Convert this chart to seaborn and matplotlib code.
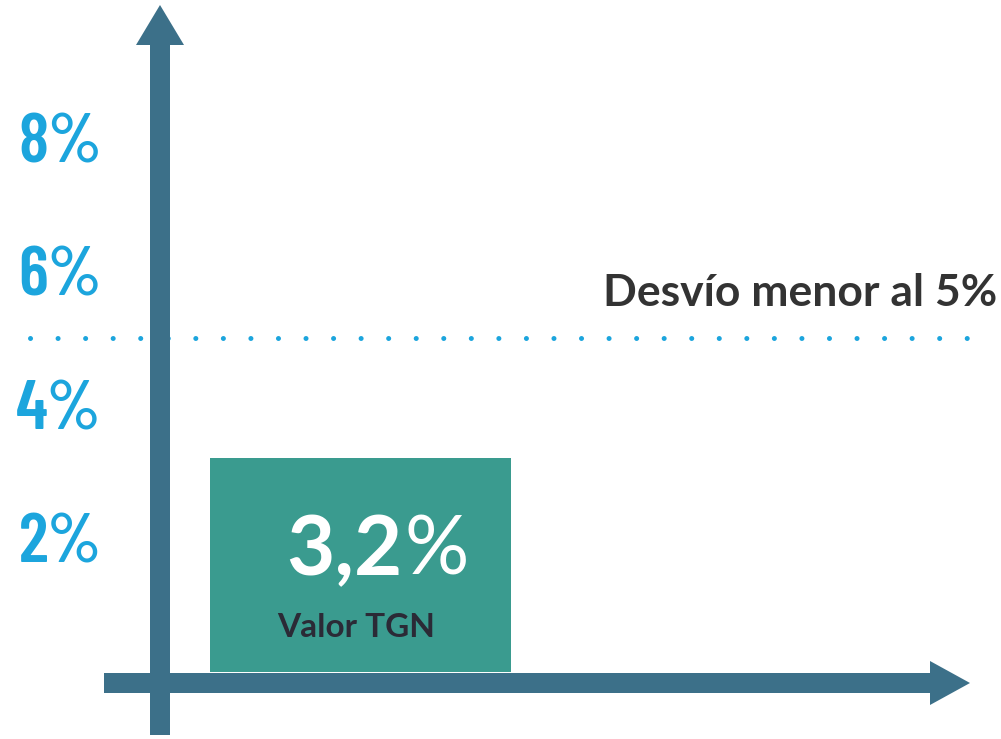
import numpy as np
import pandas as pd
import seaborn as sns
import matplotlib.pyplot as plt
import matplotlib.transforms as mtransforms
from matplotlib.patches import FancyArrow

# data
categories = ['Valor TGN']
values = [3.2]
threshold = 5.0
threshold_label = 'Desvío menor al 5%'
tick_values = [2, 4, 6, 8]
tick_labels = ['2%', '4%', '6%', '8%']

# colours
axis_color = '#3c7089'
bar_color = '#3a9b8f'
blue = '#1ca5dd'
dark = '#333333'

sns.set_theme(style='white')
plt.rcParams['font.family'] = ['Lato', 'DejaVu Sans']
narrow = ['Barlow Condensed', 'Oswald', 'Roboto Condensed', 'Liberation Sans Narrow', 'DejaVu Sans']

fig = plt.figure(figsize=(10.01, 7.39), dpi=100)
ax = fig.add_axes([160 / 1001, 0, 841 / 1001, 1])

df = pd.DataFrame({'cat': categories, 'val': values})
sns.barplot(data=df, x='cat', y='val', color=bar_color, saturation=1,
            width=0.8, linewidth=0, ax=ax, zorder=2)

ax.set_xlim(-0.533, 1.703)
ax.set_ylim(-1.003, 10.06)
ax.set_xlabel('')
ax.set_ylabel('')
ax.set_xticks([])
ax.set_yticks(tick_values)
ax.set_yticklabels(tick_labels, family=narrow, fontweight='semibold', fontsize=50, color=blue)
ax.tick_params(axis='y', length=0, pad=42)
for s in ax.spines.values():
    s.set_visible(False)
ax.set_facecolor('white')

# arrows for the axes (pixel coords)
fig.canvas.draw()
ident = mtransforms.IdentityTransform()
x0_px = ax.transAxes.transform((0, 0))[0]
y0_px = ax.transData.transform((0, 0))[1]
fig.add_artist(FancyArrow(x0_px, 4, 0, 730, width=20, head_width=48, head_length=40,
                          length_includes_head=True, color=axis_color, lw=0,
                          transform=ident, zorder=1))
fig.add_artist(FancyArrow(104, y0_px - 11, 866, 0, width=20, head_width=44, head_length=40,
                          length_includes_head=True, color=axis_color, lw=0,
                          transform=ident, zorder=1))

# threshold dotted line
ax.axhline(threshold, xmin=-0.1546, xmax=0.961, color=blue, lw=3.6,
           linestyle=(0, (0.01, 5.5)), dash_capstyle='round', clip_on=False, zorder=5)
ax.annotate(threshold_label, xy=(1, threshold), xycoords=ax.get_yaxis_transform(),
            xytext=(-3, 23), textcoords='offset points', ha='right', va='baseline',
            fontsize=32, fontweight='bold', color=dark)

# labels inside the bar
num = f'{values[0]:.1f}'.replace('.', ',')
ax.annotate(num, xy=(0, 0), xytext=(30, 70), textcoords='offset points',
            ha='right', va='baseline', fontsize=60, fontweight='bold', color='white', zorder=6)
ax.annotate('%', xy=(0, 0), xytext=(32, 70), textcoords='offset points',
            ha='left', va='baseline', fontsize=58, fontweight='normal', color='white', zorder=6)
ax.annotate(categories[0], xy=(0, 0), xytext=(-3, 25), textcoords='offset points',
            ha='center', va='baseline', fontsize=24, fontweight='bold', color='#2b2a36', zorder=6)

fig.savefig('out.png', dpi=100)
